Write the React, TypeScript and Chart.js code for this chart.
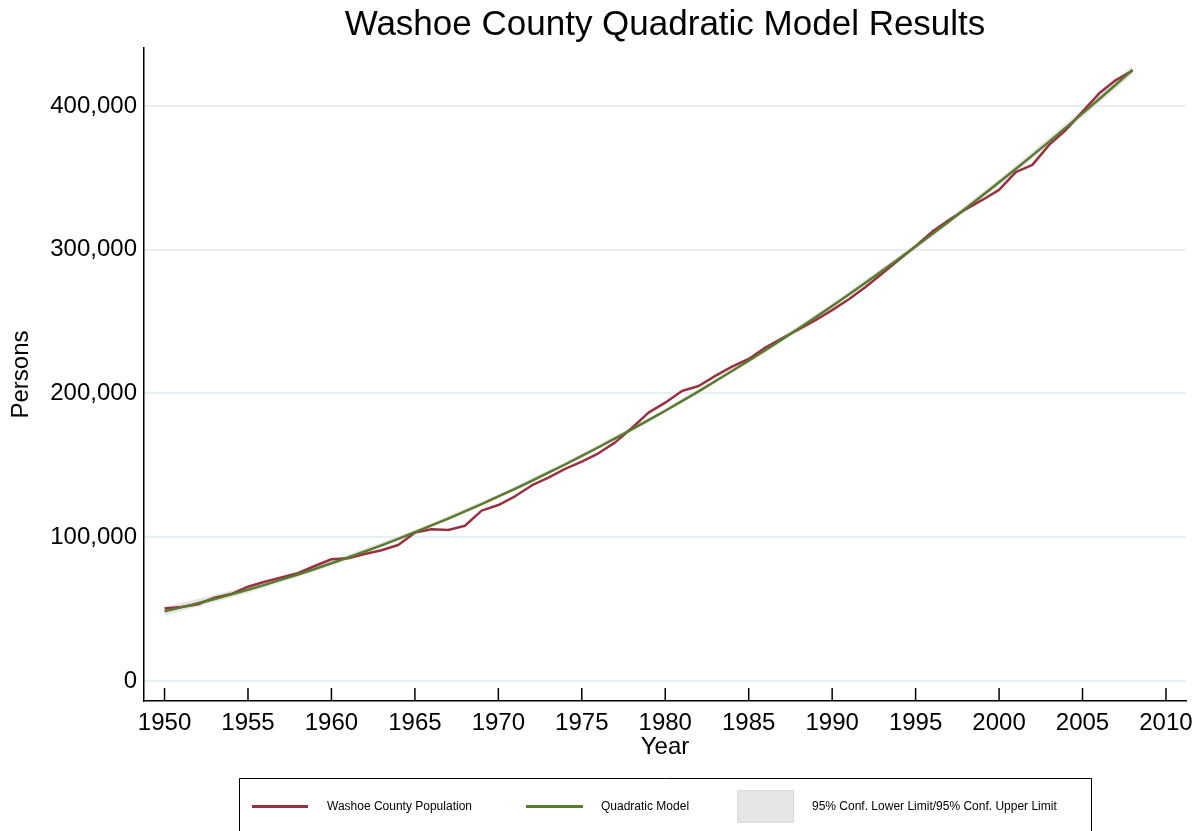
import { useEffect, useRef } from "react";
import { Chart, registerables } from "chart.js";

Chart.register(...registerables);

const FONT = "'Liberation Sans', Arial, Helvetica, sans-serif";

const titleText = "Washoe County Quadratic Model Results";
const xAxisTitle = "Year";
const yAxisTitle = "Persons";
const legendLabels = [
  "Washoe County Population",
  "Quadratic Model",
  "95% Conf. Lower Limit/95% Conf. Upper Limit",
];

const years = [
  1950, 1951, 1952, 1953, 1954, 1955, 1956, 1957, 1958, 1959,
  1960, 1961, 1962, 1963, 1964, 1965, 1966, 1967, 1968, 1969,
  1970, 1971, 1972, 1973, 1974, 1975, 1976, 1977, 1978, 1979,
  1980, 1981, 1982, 1983, 1984, 1985, 1986, 1987, 1988, 1989,
  1990, 1991, 1992, 1993, 1994, 1995, 1996, 1997, 1998, 1999,
  2000, 2001, 2002, 2003, 2004, 2005, 2006, 2007, 2008,
];

const population = [
  50500, 51500, 53400, 58000, 60500, 65600, 69000, 72000, 75000, 80000,
  84700, 85400, 88300, 91000, 94600, 103200, 105500, 105000, 108000, 118500,
  122400, 128500, 136000, 141500, 147500, 152600, 158400, 166000, 176000, 186700,
  193600, 201700, 205200, 212200, 218700, 224000, 232000, 238400, 244600, 251000,
  258000, 265500, 274000, 283500, 293000, 302500, 312600, 320700, 328100, 334600,
  341600, 354000, 359000, 372900, 383300, 396000, 408800, 418000, 424600,
];

const quadraticModel = [
  48500, 51200, 54100, 57100, 60300, 63500, 66900, 70500, 74100, 77900,
  81900, 85900, 90100, 94400, 98900, 103500, 108200, 113000, 118000, 123100,
  128400, 133700, 139200, 144900, 150600, 156600, 162600, 168700, 175000, 181500,
  188000, 194700, 201500, 208500, 215600, 222800, 230100, 237600, 245200, 253000,
  260900, 268900, 277000, 285300, 293700, 302200, 310900, 319700, 328600, 337700,
  346900, 356200, 365600, 375200, 384900, 394800, 404800, 414900, 425100,
];

const confYears = [1950, 1955, 1960, 1965, 1970, 1975, 1980, 1985, 1990, 1995, 2000, 2005, 2008];
const confLower = [45500, 61200, 80100, 102000, 127000, 155200, 186600, 221300, 259300, 300400, 344800, 392200, 422100];
const confUpper = [51500, 65800, 83700, 105000, 129800, 158000, 189400, 224300, 262500, 304000, 349000, 397400, 428100];

const xTicks = [1950, 1955, 1960, 1965, 1970, 1975, 1980, 1985, 1990, 1995, 2000, 2005, 2010];
const yTicks = [0, 100000, 200000, 300000, 400000];

const RED = "#983242";
const GREEN = "#5a7a2d";
const BAND = "#e5e5e5";
const GRID = "#e6eff1";

const decorPlugin = {
  id: "decor",
  afterDraw(chart: any) {
    const { ctx, chartArea, scales } = chart;
    const xs = scales.x;
    ctx.save();

    // x-axis tick marks (pointing into the plot region)
    ctx.strokeStyle = "#000";
    ctx.lineWidth = 1.5;
    xs.ticks.forEach((t: any) => {
      const px = xs.getPixelForValue(t.value);
      ctx.beginPath();
      ctx.moveTo(px, chartArea.bottom);
      ctx.lineTo(px, chartArea.bottom - 13);
      ctx.stroke();
    });

    // title
    ctx.fillStyle = "#000";
    ctx.font = `35px ${FONT}`;
    ctx.textAlign = "center";
    ctx.textBaseline = "alphabetic";
    ctx.fillText(titleText, (chartArea.left + chartArea.right) / 2, 35);

    // legend box
    const ds = chart.data.datasets;
    ctx.lineWidth = 1;
    ctx.strokeStyle = "#000";
    ctx.beginPath();
    ctx.moveTo(239.5, 840);
    ctx.lineTo(239.5, 778.5);
    ctx.lineTo(1091.5, 778.5);
    ctx.lineTo(1091.5, 840);
    ctx.stroke();

    const ly = 806.5;
    ctx.font = `12px ${FONT}`;
    ctx.textAlign = "left";
    ctx.textBaseline = "middle";

    ctx.lineWidth = 3;
    ctx.strokeStyle = ds[2].borderColor;
    ctx.beginPath();
    ctx.moveTo(252, ly);
    ctx.lineTo(308, ly);
    ctx.stroke();
    ctx.fillStyle = "#000";
    ctx.fillText(legendLabels[0], 327, ly);

    ctx.strokeStyle = ds[3].borderColor;
    ctx.beginPath();
    ctx.moveTo(526, ly);
    ctx.lineTo(583, ly);
    ctx.stroke();
    ctx.fillText(legendLabels[1], 601, ly);

    ctx.fillStyle = ds[1].backgroundColor;
    ctx.fillRect(737, 790, 57, 33);
    ctx.strokeStyle = "#dcdcdc";
    ctx.lineWidth = 1;
    ctx.strokeRect(737.5, 790.5, 56, 32);
    ctx.fillStyle = "#000";
    ctx.fillText(legendLabels[2], 812, ly);

    ctx.restore();
  },
};

export default function App() {
  const ref = useRef<HTMLCanvasElement | null>(null);

  useEffect(() => {
    if (!ref.current) return;
    const chart = new Chart(ref.current, {
      type: "line",
      data: {
        datasets: [
          {
            label: "lower",
            data: confYears.map((x, i) => ({ x, y: confLower[i] })),
            borderWidth: 0,
            borderColor: "rgba(0,0,0,0)",
            pointRadius: 0,
            fill: false,
            order: 4,
          },
          {
            label: legendLabels[2],
            data: confYears.map((x, i) => ({ x, y: confUpper[i] })),
            borderWidth: 0,
            borderColor: "rgba(0,0,0,0)",
            backgroundColor: BAND,
            pointRadius: 0,
            fill: "-1",
            order: 3,
          },
          {
            label: legendLabels[0],
            data: years.map((x, i) => ({ x, y: population[i] })),
            borderColor: RED,
            borderWidth: 2.5,
            pointRadius: 0,
            tension: 0,
            fill: false,
            borderJoinStyle: "round",
            order: 2,
          },
          {
            label: legendLabels[1],
            data: years.map((x, i) => ({ x, y: quadraticModel[i] })),
            borderColor: GREEN,
            borderWidth: 2.5,
            pointRadius: 0,
            tension: 0,
            fill: false,
            borderJoinStyle: "round",
            order: 1,
          },
        ],
      },
      options: {
        animation: false,
        responsive: false,
        layout: { padding: { left: 0, right: 15, top: 48, bottom: 0 } },
        plugins: {
          legend: { display: false },
          tooltip: { enabled: false },
          title: { display: false },
        },
        scales: {
          x: {
            type: "linear",
            min: 1948.77,
            max: 2011.2,
            afterBuildTicks: (s: any) => {
              s.ticks = xTicks.map((value) => ({ value }));
            },
            afterFit: (s: any) => {
              s.height = 130;
            },
            grid: { display: false, drawTicks: false },
            border: { display: true, color: "#000", width: 1.5 },
            ticks: {
              color: "#000",
              font: { family: FONT, size: 24 },
              padding: 7.5,
              maxRotation: 0,
              autoSkip: false,
              callback: (v: any) => String(v),
            },
            title: {
              display: true,
              text: xAxisTitle,
              color: "#000",
              font: { family: FONT, size: 24 },
              padding: { top: 0, bottom: 69.6 },
            },
          },
          y: {
            type: "linear",
            min: -13900,
            max: 440300,
            afterBuildTicks: (s: any) => {
              s.ticks = yTicks.map((value) => ({ value }));
            },
            afterFit: (s: any) => {
              s.width = 144;
            },
            grid: { display: true, drawOnChartArea: true, drawTicks: false, color: GRID, lineWidth: 2 },
            border: { display: true, color: "#000", width: 1.5 },
            ticks: {
              color: "#000",
              font: { family: FONT, size: 24 },
              padding: 7,
              autoSkip: false,
              callback: (v: any) => Number(v).toLocaleString("en-US"),
            },
            title: {
              display: true,
              text: yAxisTitle,
              color: "#000",
              font: { family: FONT, size: 24 },
              padding: { top: 7, bottom: 0 },
            },
          },
        },
      },
      plugins: [decorPlugin],
    });
    return () => chart.destroy();
  }, []);

  return (
    <div style={{ position: "absolute", left: 0, top: 0, width: 1201, height: 831, background: "#fff" }}>
      <canvas ref={ref} width={1201} height={831} />
    </div>
  );
}
